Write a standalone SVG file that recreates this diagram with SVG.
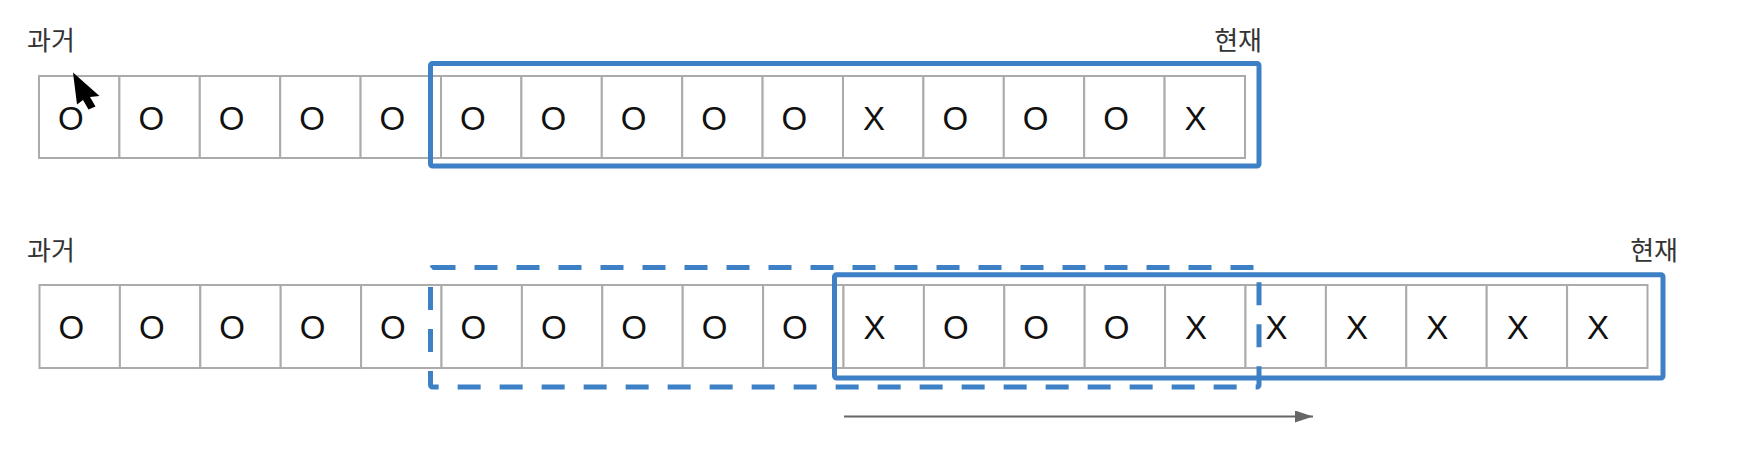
<svg xmlns="http://www.w3.org/2000/svg" width="1755" height="471" viewBox="0 0 1755 471">
<defs>
<style>
.cell{fill:#ffffff;stroke:#ababab;stroke-width:2}
.v{font-family:"Liberation Sans",Arial,sans-serif;font-size:33px;fill:#111111}
.lbl{font-family:"Noto Sans CJK KR","Noto Sans",sans-serif;font-size:26px;fill:#333333}
.win{fill:none;stroke:#3d80c5;stroke-width:5}
.dash{stroke-dasharray:23 19}
</style>
<marker id="ah" viewBox="0 0 18 12" refX="18" refY="6" markerWidth="18" markerHeight="12" markerUnits="userSpaceOnUse" orient="auto">
<path d="M0,0 L18,6 L0,12 Z" fill="#666666"/>
</marker>
</defs>
<rect width="1755" height="471" fill="#ffffff"/>

<g id="row1">
<text class="lbl" x="27" y="50">과거</text>
<text class="lbl" x="1262" y="50" text-anchor="end">현재</text>
<g id="r1c0"><rect class="cell" x="39" y="76" width="80.4" height="82"/><text class="v" x="58" y="129.5">O</text></g>
<g id="r1c1"><rect class="cell" x="119.4" y="76" width="80.4" height="82"/><text class="v" x="138.4" y="129.5">O</text></g>
<g id="r1c2"><rect class="cell" x="199.8" y="76" width="80.4" height="82"/><text class="v" x="218.8" y="129.5">O</text></g>
<g id="r1c3"><rect class="cell" x="280.2" y="76" width="80.4" height="82"/><text class="v" x="299.2" y="129.5">O</text></g>
<g id="r1c4"><rect class="cell" x="360.6" y="76" width="80.4" height="82"/><text class="v" x="379.6" y="129.5">O</text></g>
<g id="r1c5"><rect class="cell" x="441" y="76" width="80.4" height="82"/><text class="v" x="460" y="129.5">O</text></g>
<g id="r1c6"><rect class="cell" x="521.4" y="76" width="80.4" height="82"/><text class="v" x="540.4" y="129.5">O</text></g>
<g id="r1c7"><rect class="cell" x="601.8" y="76" width="80.4" height="82"/><text class="v" x="620.8" y="129.5">O</text></g>
<g id="r1c8"><rect class="cell" x="682.2" y="76" width="80.4" height="82"/><text class="v" x="701.2" y="129.5">O</text></g>
<g id="r1c9"><rect class="cell" x="762.6" y="76" width="80.4" height="82"/><text class="v" x="781.6" y="129.5">O</text></g>
<g id="r1c10"><rect class="cell" x="843" y="76" width="80.4" height="82"/><text class="v" x="863" y="129.5">X</text></g>
<g id="r1c11"><rect class="cell" x="923.4" y="76" width="80.4" height="82"/><text class="v" x="942.4" y="129.5">O</text></g>
<g id="r1c12"><rect class="cell" x="1003.8" y="76" width="80.4" height="82"/><text class="v" x="1022.8" y="129.5">O</text></g>
<g id="r1c13"><rect class="cell" x="1084.2" y="76" width="80.4" height="82"/><text class="v" x="1103.2" y="129.5">O</text></g>
<g id="r1c14"><rect class="cell" x="1164.6" y="76" width="80.4" height="82"/><text class="v" x="1184.6" y="129.5">X</text></g>
<rect id="r1win" class="win" x="430.5" y="63.5" width="828.5" height="102.5" rx="2"/>
</g>

<g id="row2">
<text class="lbl" x="27" y="260">과거</text>
<text class="lbl" x="1678" y="260" text-anchor="end">현재</text>
<g id="r2c0"><rect class="cell" x="39.5" y="285" width="80.4" height="83"/><text class="v" x="58.5" y="339">O</text></g>
<g id="r2c1"><rect class="cell" x="119.9" y="285" width="80.4" height="83"/><text class="v" x="138.9" y="339">O</text></g>
<g id="r2c2"><rect class="cell" x="200.3" y="285" width="80.4" height="83"/><text class="v" x="219.3" y="339">O</text></g>
<g id="r2c3"><rect class="cell" x="280.7" y="285" width="80.4" height="83"/><text class="v" x="299.7" y="339">O</text></g>
<g id="r2c4"><rect class="cell" x="361.1" y="285" width="80.4" height="83"/><text class="v" x="380.1" y="339">O</text></g>
<g id="r2c5"><rect class="cell" x="441.5" y="285" width="80.4" height="83"/><text class="v" x="460.5" y="339">O</text></g>
<g id="r2c6"><rect class="cell" x="521.9" y="285" width="80.4" height="83"/><text class="v" x="540.9" y="339">O</text></g>
<g id="r2c7"><rect class="cell" x="602.3" y="285" width="80.4" height="83"/><text class="v" x="621.3" y="339">O</text></g>
<g id="r2c8"><rect class="cell" x="682.7" y="285" width="80.4" height="83"/><text class="v" x="701.7" y="339">O</text></g>
<g id="r2c9"><rect class="cell" x="763.1" y="285" width="80.4" height="83"/><text class="v" x="782.1" y="339">O</text></g>
<g id="r2c10"><rect class="cell" x="843.5" y="285" width="80.4" height="83"/><text class="v" x="863.5" y="339">X</text></g>
<g id="r2c11"><rect class="cell" x="923.9" y="285" width="80.4" height="83"/><text class="v" x="942.9" y="339">O</text></g>
<g id="r2c12"><rect class="cell" x="1004.3" y="285" width="80.4" height="83"/><text class="v" x="1023.3" y="339">O</text></g>
<g id="r2c13"><rect class="cell" x="1084.7" y="285" width="80.4" height="83"/><text class="v" x="1103.7" y="339">O</text></g>
<g id="r2c14"><rect class="cell" x="1165.1" y="285" width="80.4" height="83"/><text class="v" x="1185.1" y="339">X</text></g>
<g id="r2c15"><rect class="cell" x="1245.5" y="285" width="80.4" height="83"/><text class="v" x="1265.5" y="339">X</text></g>
<g id="r2c16"><rect class="cell" x="1325.9" y="285" width="80.4" height="83"/><text class="v" x="1345.9" y="339">X</text></g>
<g id="r2c17"><rect class="cell" x="1406.3" y="285" width="80.4" height="83"/><text class="v" x="1426.3" y="339">X</text></g>
<g id="r2c18"><rect class="cell" x="1486.7" y="285" width="80.4" height="83"/><text class="v" x="1506.7" y="339">X</text></g>
<g id="r2c19"><rect class="cell" x="1567.1" y="285" width="80.4" height="83"/><text class="v" x="1587.1" y="339">X</text></g>
<rect id="r2winOld" class="win dash" x="430.5" y="267.5" width="828.5" height="119.5" rx="2"/>
<rect id="r2winNew" class="win" x="834.5" y="274.7" width="828.5" height="103.3" rx="2"/>
</g>

<g id="connectors">
<line x1="844" y1="416.5" x2="1313" y2="416.5" stroke="#666666" stroke-width="2" marker-end="url(#ah)"/>
</g>

<polygon id="cursor" points="73,72.5 99.5,96 90,97 95.5,106.5 88.5,109.5 83,100 77,104.5" fill="#000000"/>
</svg>
